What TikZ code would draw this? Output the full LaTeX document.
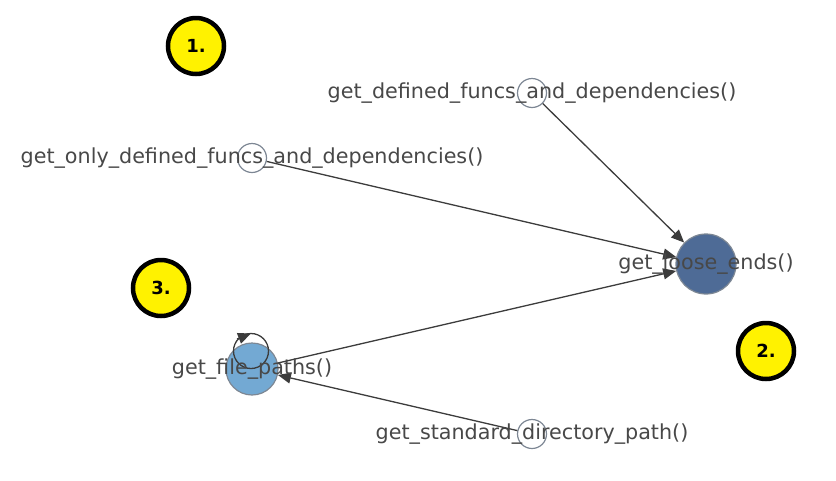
\documentclass[tikz,border=0pt]{standalone}
\usepackage{fontspec}
\setmainfont{DejaVu Sans}
\usetikzlibrary{arrows.meta}
\definecolor{txt}{RGB}{72,72,72}
\definecolor{edgec}{RGB}{60,60,60}
\definecolor{dark}{RGB}{78,107,150}
\definecolor{light}{RGB}{100,160,206}
\definecolor{rimc}{RGB}{125,135,148}
\definecolor{yel}{RGB}{255,242,0}
\tikzset{
  gnode/.style={circle,draw=rimc,line width=1.2pt,inner sep=0pt},
  smallnode/.style={gnode,fill=white,minimum size=29pt},
  lbl/.style={text=txt,font=\fontsize{20.7}{24}\selectfont,inner sep=0pt},
  arr/.style={draw=edgec,line width=1.3pt,-{Triangle[length=13pt,width=11pt]}},
  badge/.style={circle,draw=black,line width=4.5pt,fill=yel,minimum size=56pt,inner sep=0pt,font=\fontsize{18}{20}\bfseries\selectfont}
}
\begin{document}
\begin{tikzpicture}[x=1pt,y=-1pt]
\useasboundingbox (0,0) rectangle (836,480);
% nodes
\node[smallnode] (def) at (532,93) {};
\node[smallnode] (only) at (252,158) {};
\node[gnode,fill=dark,minimum size=60pt] (loose) at (706,264) {};
\node[gnode,fill=light,fill opacity=0.9,minimum size=52pt] (fp) at (252,369) {};
\node[smallnode] (std) at (532,434) {};
\coordinate (loopc) at (251,351);
% edges
\draw[arr] (def) -- (loose);
\draw[arr] (only) -- (loose);
\draw[arr] (fp) -- (loose);
\draw[arr] (std) -- (fp);
\draw[draw=edgec,line width=1.3pt] (loopc) circle (17.5);
\draw[arr] ([shift={(-14,-12)}]loopc) -- ([shift={(0,-17.5)}]loopc);
% labels
\node[lbl] at (def) {get\_defined\_funcs\_and\_dependencies()};
\node[lbl] at (only) {get\_only\_defined\_funcs\_and\_dependencies()};
\node[lbl] at (loose) {get\_loose\_ends()};
\node[lbl] at (fp) {get\_file\_paths()};
\node[lbl] at (std) {get\_standard\_directory\_path()};
% badges
\node[badge] (b1) at (196,46) {1.};
\node[badge] (b3) at (161,288) {3.};
\node[badge] (b2) at (766,351) {2.};
\end{tikzpicture}
\end{document}
